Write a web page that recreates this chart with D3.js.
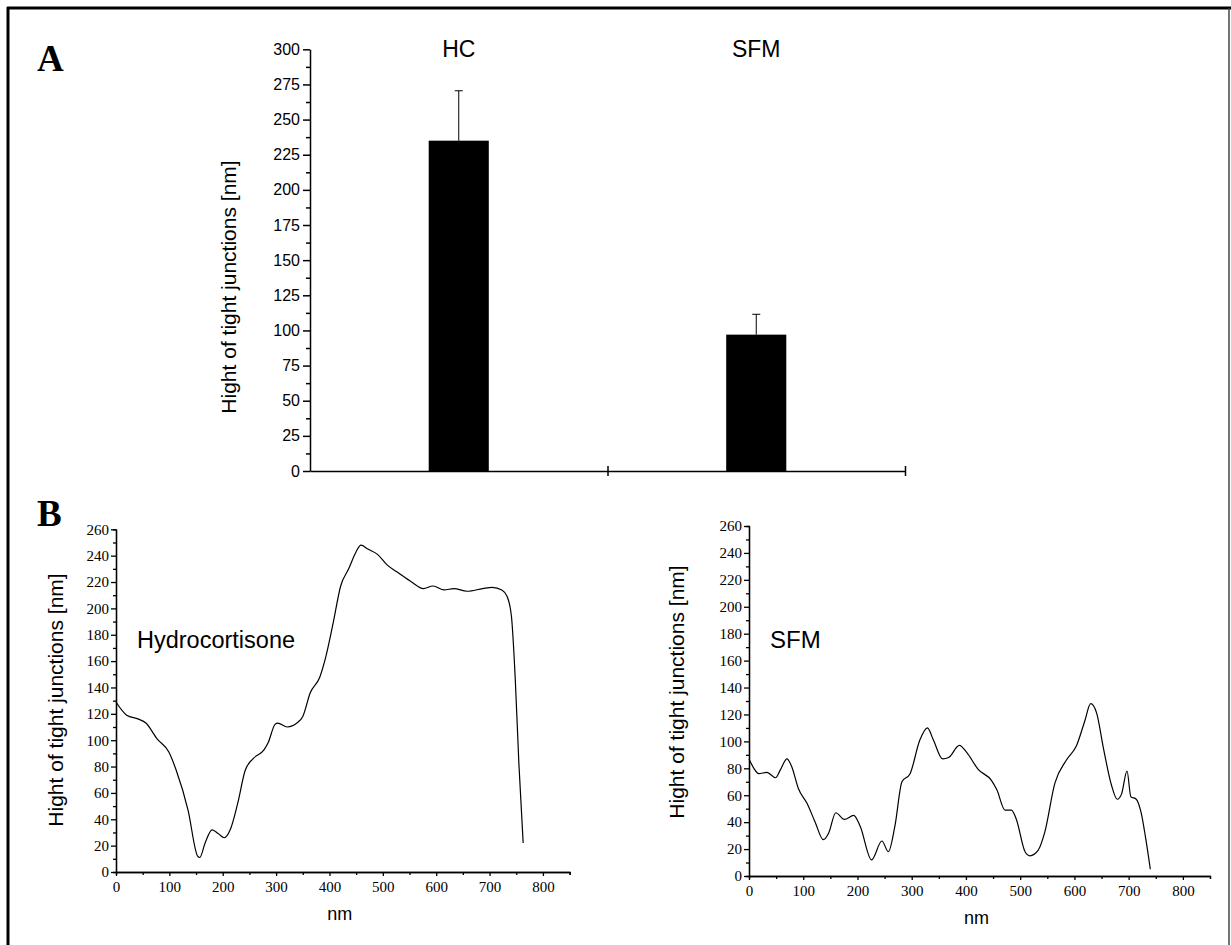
<!DOCTYPE html>
<html>
<head>
<meta charset="utf-8">
<script src="https://cdn.jsdelivr.net/npm/d3@7"></script>
<style>
  body { margin: 0; background: #fff; }
  svg { display: block; }
  .sans { font-family: 'Liberation Sans', Arial, sans-serif; }
  .serif { font-family: 'Liberation Serif', 'Times New Roman', serif; }
  .bars .tick text { font-family: 'Liberation Sans', Arial, sans-serif; font-size: 16px; fill: #000; }
</style>
</head>
<body>
<svg id="chart" width="1231" height="945"></svg>
<script>
// panel A: bar chart
var barCategories = ['HC', 'SFM']
var barValues     = [235, 97]
var barErrors     = [35.5, 14.5]
var barTicks      = [0, 25, 50, 75, 100, 125, 150, 175, 200, 225, 250, 275, 300]

// panel B: height profiles (x in nm, y in nm)
var hcX  = [0, 20, 42, 56, 77, 99, 113, 135, 153, 157, 167, 180, 192, 203, 214, 228, 242, 257, 278, 285, 298, 303, 321, 339, 350, 364, 382, 393, 407, 421, 436, 450, 459, 472, 490, 508, 529, 554, 576, 594, 615, 633, 658, 687, 705, 723, 733, 741, 748, 755, 763]
var hcY  = [129, 119, 116, 113, 101, 91, 77, 47, 12, 11, 22, 32, 29, 26, 32, 52, 77, 86, 93, 98, 112, 113, 110, 113, 118, 136, 148, 163, 189, 217, 230, 243, 248, 245, 241, 233, 227, 220, 215, 217, 214, 215, 213, 215, 216, 214, 209, 194, 148, 82, 22]
var sfmX = [0, 9, 18, 33, 49, 58, 70, 79, 91, 107, 122, 137, 147, 160, 176, 193, 205, 226, 245, 257, 269, 282, 297, 315, 329, 340, 357, 368, 388, 401, 423, 447, 457, 472, 484, 493, 509, 518, 533, 545, 564, 585, 604, 619, 630, 641, 653, 668, 679, 687, 697, 704, 714, 723, 731, 740]
var sfmY = [87, 80, 76, 77, 73, 79, 87, 81, 65, 54, 40, 27, 32, 47, 42, 45, 37, 12, 26, 18, 37, 70, 76, 101, 110, 101, 87, 88, 97, 92, 79, 71, 64, 49, 49, 42, 18, 15, 19, 32, 69, 86, 97, 115, 128, 121, 96, 68, 57, 61, 78, 59, 57, 47, 29, 5]
var profileYTicks = [0, 20, 40, 60, 80, 100, 120, 140, 160, 180, 200, 220, 240, 260]
var profileXTicks = [0, 100, 200, 300, 400, 500, 600, 700, 800]

var yLabel = 'Hight of tight junctions [nm]'

var svg = d3.select('#chart')

// outer frame
svg.append('line').attr('x1', 7).attr('x2', 1231).attr('y1', 8).attr('y2', 8).attr('stroke', '#000').attr('stroke-width', 3)
svg.append('line').attr('x1', 8).attr('x2', 8).attr('y1', 7).attr('y2', 945).attr('stroke', '#000').attr('stroke-width', 3)
svg.append('line').attr('x1', 1229).attr('x2', 1229).attr('y1', 8).attr('y2', 945).attr('stroke', '#444').attr('stroke-width', 1.5)

function drawBars () {
  var g = svg.append('g').attr('class', 'sans bars')
  var y = d3.scaleLinear().domain([0, 300]).range([471, 49.3])
  var x = d3.scaleBand().domain(barCategories).range([310, 905]).paddingInner(0.798).paddingOuter(0.399)
  var xEdge = d3.scaleLinear().domain([0, barCategories.length]).range([310, 905])

  // minor y ticks
  g.append('g').attr('transform', 'translate(310,0)')
    .call(d3.axisLeft(y).tickValues(d3.range(12.5, 300, 25)).tickSize(4).tickFormat(''))
    .call(function (a) { a.select('.domain').remove() })
  g.append('g').attr('transform', 'translate(310,0)')
    .call(d3.axisLeft(y).tickValues(barTicks).tickSize(7).tickPadding(3).tickSizeOuter(0))

  // x axis with crossing ticks at band edges
  var xAxis = g.append('g').attr('transform', 'translate(0,471)')
    .call(d3.axisBottom(xEdge).tickValues([1, 2]).tickSize(5).tickFormat('').tickSizeOuter(0))
  xAxis.selectAll('.tick line').attr('y1', -5)
  g.selectAll('.domain, .tick line').attr('stroke', '#000').attr('stroke-width', 1.5)

  g.selectAll('.bar').data(barValues).enter().append('rect')
    .attr('x', function (d, i) { return x(barCategories[i]) })
    .attr('y', function (d) { return y(d) })
    .attr('width', x.bandwidth())
    .attr('height', function (d) { return y(0) - y(d) })
    .attr('fill', '#000')

  // error bars (upper only)
  barValues.forEach(function (v, i) {
    var cx = x(barCategories[i]) + x.bandwidth() / 2
    g.append('line').attr('x1', cx).attr('x2', cx).attr('y1', y(v)).attr('y2', y(v + barErrors[i])).attr('stroke', '#000').attr('stroke-width', 1)
    g.append('line').attr('x1', cx - 4).attr('x2', cx + 4).attr('y1', y(v + barErrors[i])).attr('y2', y(v + barErrors[i])).attr('stroke', '#000').attr('stroke-width', 1)
    g.append('text').attr('x', cx).attr('y', 57).attr('text-anchor', 'middle').attr('font-size', 23).text(barCategories[i])
  })

  g.append('text').attr('transform', 'translate(236,287) rotate(-90)').attr('text-anchor', 'middle').attr('font-size', 21).text(yLabel)
  svg.append('text').attr('class', 'serif').attr('x', 37).attr('y', 71).attr('font-size', 37).attr('font-weight', 'bold').text('A')
}

function drawProfile (xs, ys, box, label) {
  var g = svg.append('g')
  var x = d3.scaleLinear().domain([0, 850]).range([box.left, box.right])
  var y = d3.scaleLinear().domain([0, 260]).range([box.bottom, box.top])

  g.append('g').attr('transform', 'translate(' + box.left + ',0)')
    .call(d3.axisLeft(y).tickValues(d3.range(10, 260, 20)).tickSize(3).tickFormat(''))
  g.append('g').attr('transform', 'translate(0,' + box.bottom + ')')
    .call(d3.axisBottom(x).tickValues([50, 150, 250, 350, 450, 550, 650, 750, 850]).tickSize(3).tickFormat(''))
  g.append('g').attr('transform', 'translate(' + box.left + ',0)')
    .call(d3.axisLeft(y).tickValues(profileYTicks).tickSize(5).tickPadding(2).tickSizeOuter(0))
  g.append('g').attr('transform', 'translate(0,' + box.bottom + ')')
    .call(d3.axisBottom(x).tickValues(profileXTicks).tickSize(4).tickPadding(5).tickSizeOuter(0))
  g.selectAll('.domain, .tick line').attr('stroke', '#000').attr('stroke-width', 1.3)
  // origin style serif tick labels
  g.selectAll('.tick text')
    .style('font-family', '"Times New Roman", "Liberation Serif", serif')
    .style('font-size', '15px')
    .style('fill', '#000')

  var pts = xs.map(function (v, i) { return [v, ys[i]] })
  var line = d3.line().x(function (d) { return x(d[0]) }).y(function (d) { return y(d[1]) }).curve(d3.curveMonotoneX)
  g.append('path').datum(pts).attr('d', line).attr('fill', 'none').attr('stroke', '#000').attr('stroke-width', 1.2)

  g.append('text').attr('class', 'sans').attr('transform', 'translate(' + box.labelX + ',' + box.labelY + ') rotate(-90)')
    .attr('text-anchor', 'middle').attr('font-size', 21).text(yLabel)
  g.append('text').attr('class', 'sans').attr('x', (box.left + box.right) / 2 - 3).attr('y', box.nmY)
    .attr('text-anchor', 'middle').attr('font-size', 18).text('nm')
  g.append('text').attr('class', 'sans').attr('x', box.tagX).attr('y', box.tagY).attr('font-size', box.tagSize).text(label)
}

drawBars()
drawProfile(hcX, hcY, {left: 116, right: 569.6, top: 529.3, bottom: 872, labelX: 63, labelY: 700, nmY: 920, tagX: 137, tagY: 648, tagSize: 23.5}, 'Hydrocortisone')
drawProfile(sfmX, sfmY, {left: 749, right: 1210, top: 526, bottom: 876, labelX: 684, labelY: 692, nmY: 924, tagX: 770, tagY: 648, tagSize: 24}, 'SFM')
svg.append('text').attr('class', 'serif').attr('x', 37).attr('y', 526).attr('font-size', 37).attr('font-weight', 'bold').text('B')
</script>
</body>
</html>
